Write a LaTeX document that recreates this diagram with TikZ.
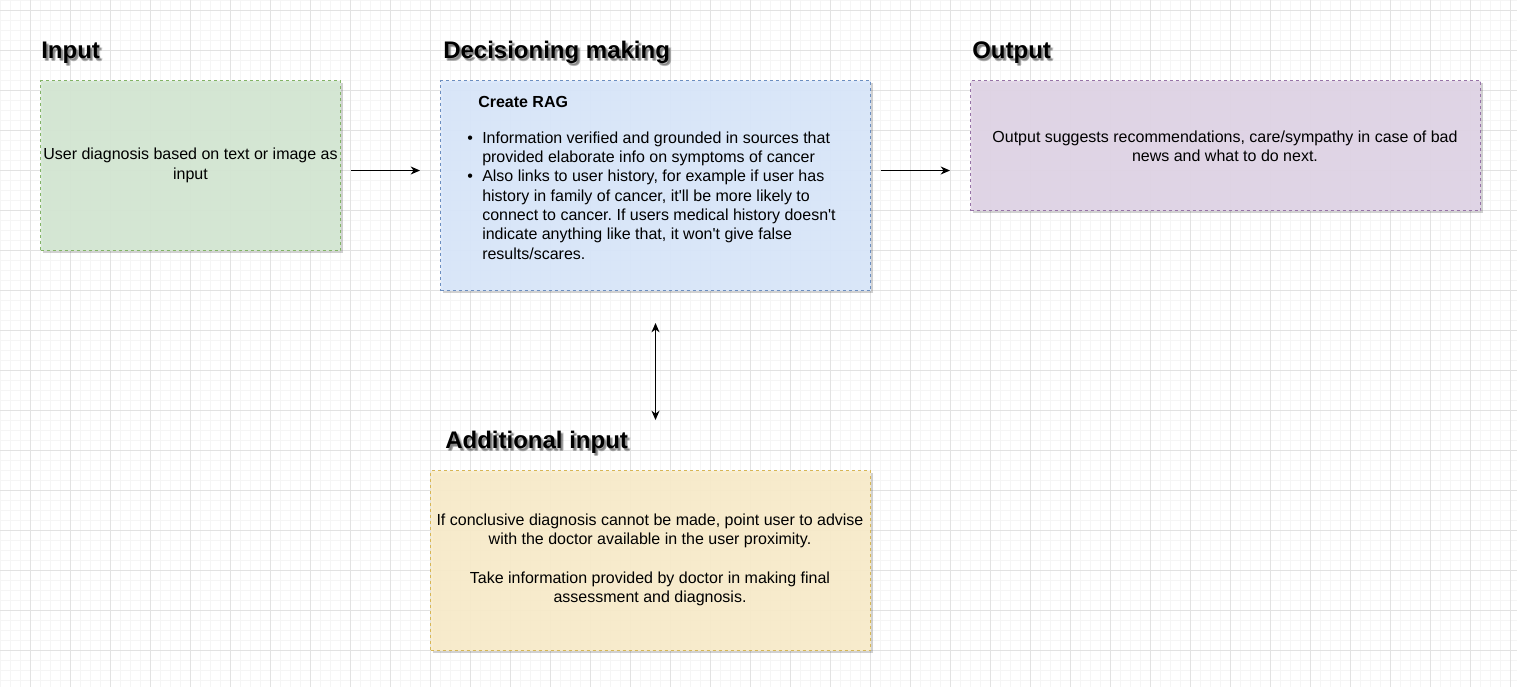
\documentclass[tikz,border=0pt]{standalone}
\usepackage{fontspec}
\setmainfont{Liberation Sans}
\usetikzlibrary{arrows.meta,shadows,calc,fit}
\definecolor{gridminor}{HTML}{F5F5F5}
\definecolor{gridmajor}{HTML}{E2E2E2}
\definecolor{gfill}{HTML}{D5E8D4}\definecolor{gline}{HTML}{82B366}
\definecolor{bfill}{HTML}{DAE8FC}\definecolor{bline}{HTML}{6C8EBF}
\definecolor{pfill}{HTML}{E1D5E7}\definecolor{pline}{HTML}{9673A6}
\definecolor{yfill}{HTML}{FAEDCC}\definecolor{yline}{HTML}{D6B656}
\newcommand{\bodyfont}{\fontsize{12pt}{14.5pt}\selectfont}
\newcommand{\titlefont}{\fontsize{18pt}{21.6pt}\selectfont\bfseries}
\newcommand{\ap}{\textquotesingle}
\frenchspacing
\begin{document}
\begin{tikzpicture}[x=0.75pt,y=-0.75pt,
  box/.style={rectangle, inner sep=0pt, line width=0.75pt,
    dash pattern=on 2.25pt off 2.25pt, fill opacity=0.93,
    drop shadow={shadow xshift=1.5pt, shadow yshift=-1.8pt, opacity=0.18, fill=black}},
  body/.style={inner sep=0pt, font=\bodyfont, text=black, text opacity=1},
  ttl/.style={inner sep=0pt, anchor=base west, font=\titlefont, text=black},
  ttlsh/.style={inner sep=0pt, anchor=base west, font=\titlefont, text=black, text opacity=0.15},
  arr/.style={line width=0.75pt, -{Stealth[length=7pt,width=6pt,inset=2.2pt]}},
  darr/.style={line width=0.75pt, {Stealth[length=7pt,width=6pt,inset=2.2pt]}-{Stealth[length=7pt,width=6pt,inset=2.2pt]}}
]
\useasboundingbox (0,0) rectangle (1517,687);
\fill[white] (0,0) rectangle (1517,687);
% grid
\foreach \x in {0,10,...,1510} \draw[gridminor, line width=0.75pt] (\x,0) -- (\x,687);
\foreach \y in {0,10,...,680} \draw[gridminor, line width=0.75pt] (0,\y) -- (1517,\y);
\foreach \x in {30,70,...,1510} \draw[gridmajor, line width=0.75pt] (\x,0) -- (\x,687);
\foreach \y in {10,50,...,680} \draw[gridmajor, line width=0.75pt] (0,\y) -- (1517,\y);

% boxes
\node[box, draw=gline, fill=gfill, fit={(40.5,80.5) (340.5,250.5)}] (inbox) {};
\node[box, draw=bline, fill=bfill, fit={(440.5,80.5) (870.5,290.5)}] (decbox) {};
\node[box, draw=pline, fill=pfill, fit={(970.5,80.5) (1480.5,210.5)}] (outbox) {};
\node[box, draw=yline, fill=yfill, fit={(430.5,470.5) (870.5,650.5)}] (addbox) {};

% titles with soft shadow
\foreach \dx/\dy [count=\i] in {1.5/2,2.5/3,3/2.5,2/3.5}{
  \node[ttlsh] (tsa\i) at (41+\dx,58+\dy) {Input};
  \node[ttlsh] (tsb\i) at (443+\dx,58+\dy) {Decisioning making};
  \node[ttlsh] (tsc\i) at (972+\dx,58+\dy) {Output};
  \node[ttlsh] (tsd\i) at (445+\dx,448+\dy) {Additional input};
}
\node[ttl] (tin) at (41,58) {Input};
\node[ttl] (tdec) at (443,58) {Decisioning making};
\node[ttl] (tout) at (972,58) {Output};
\node[ttl] (tadd) at (445,448) {Additional input};

% texts
\node[body, align=center] (intext) at (inbox.center) {User diagnosis based on text or image as\\input};
\node[body, anchor=base west, font=\bodyfont\bfseries] (rag) at (478,107) {Create RAG};
\node[body, anchor=north west, align=left] (ragtext) at (482,129.5) {%
\strut\llap{\textbullet\hspace{7pt}}Information verified and grounded in sources that\\
provided elaborate info on symptoms of cancer\\
\llap{\textbullet\hspace{7pt}}Also links to user history, for example if user has\\
history in family of cancer, it\ap ll be more likely to\\
connect to cancer. If users medical history doesn\ap t\\
indicate anything like that, it won\ap t give false\\
results/scares.};
\node[body, align=center] (outtext) at (1225,146) {Output suggests recommendations, care/sympathy in case of bad\\news and what to do next.};
\node[body, align=center] (addtext) at (650,560) {If conclusive diagnosis cannot be made, point user to advise\\with the doctor available in the user proximity.\\[14.5pt]Take information provided by doctor in making final\\assessment and diagnosis.};

% connectors
\draw[arr] ($(inbox.east)+(10,5)$) -- ($(decbox.west)+(-20,-15)$);
\draw[arr] ($(decbox.east)+(10,-15)$) -- ($(outbox.west)+(-20,25)$);
\draw[darr] ($(decbox.south)+(0,32)$) -- ($(addbox.north)+(5,-50)$);
\end{tikzpicture}
\end{document}
